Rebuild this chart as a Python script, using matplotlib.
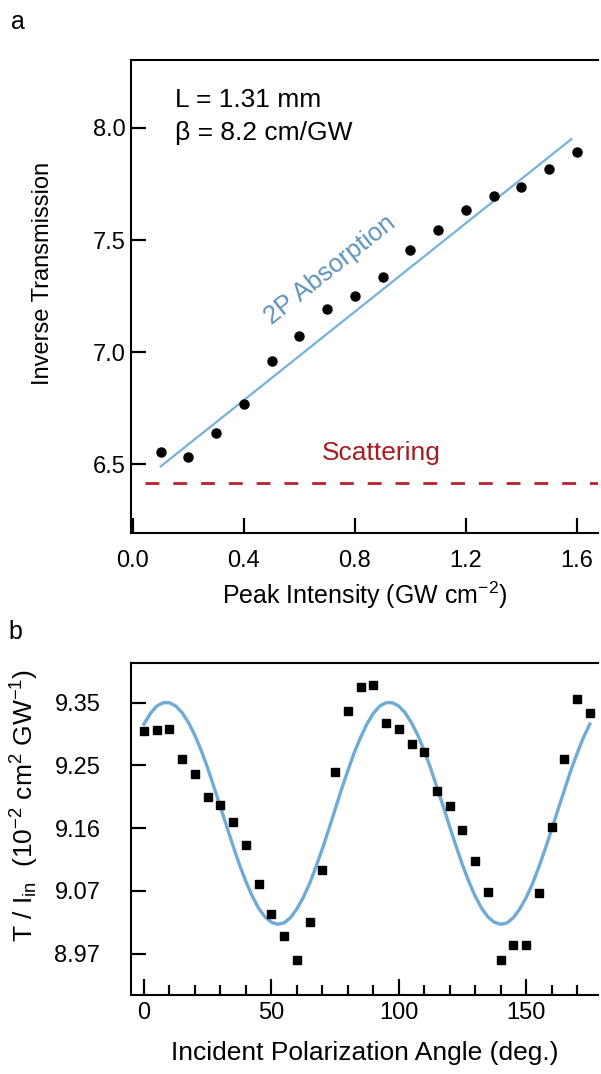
import matplotlib
matplotlib.use("Agg")
from matplotlib import pyplot as plt
from matplotlib.lines import Line2D
from matplotlib.ticker import MultipleLocator

plt.rcParams['font.family'] = ['Liberation Sans', 'DejaVu Sans']
plt.rcParams['mathtext.fontset'] = 'custom'
plt.rcParams['mathtext.rm'] = 'Liberation Sans'
plt.rcParams['mathtext.it'] = 'Liberation Sans'

# panel a: inverse transmission vs peak intensity
intensity = [0.1, 0.2, 0.3, 0.4, 0.5, 0.6, 0.7, 0.8, 0.9, 1.0, 1.1, 1.2, 1.3, 1.4, 1.5, 1.6]
inv_trans = [6.556, 6.534, 6.641, 6.769, 6.962, 7.070, 7.192, 7.251, 7.336, 7.457,
             7.545, 7.634, 7.695, 7.735, 7.815, 7.891]
fit_x = [0.1, 1.58]
fit_y = [6.49, 7.95]
scatter_x = [0.043, 1.676]
scatter_level = 6.418

# panel b: T/I_in vs polarization angle
angle = list(range(0, 180, 5))
t_over_i = [9.305, 9.307, 9.308, 9.264, 9.241, 9.206, 9.194, 9.170, 9.135, 9.077,
            9.032, 8.998, 8.963, 9.020, 9.098, 9.244, 9.335, 9.371, 9.374, 9.318,
            9.308, 9.286, 9.274, 9.216, 9.193, 9.157, 9.111, 9.065, 8.963, 8.985,
            8.985, 9.063, 9.162, 9.264, 9.354, 9.333]
# fitted curve read every 2.5 deg
curve_x = [i * 2.5 for i in range(71)]
curve_y = [9.316, 9.332, 9.343, 9.348, 9.348, 9.343, 9.333, 9.318, 9.299, 9.276,
           9.250, 9.221, 9.192, 9.162, 9.133, 9.105, 9.080, 9.058, 9.040, 9.027,
           9.019, 9.016, 9.018, 9.026, 9.039, 9.056, 9.077, 9.102, 9.129, 9.158,
           9.188, 9.218, 9.246, 9.273, 9.296, 9.316, 9.332, 9.343, 9.348, 9.348,
           9.343, 9.333, 9.318, 9.299, 9.276, 9.250, 9.221, 9.192, 9.162, 9.133,
           9.105, 9.080, 9.058, 9.040, 9.027, 9.019, 9.016, 9.018, 9.026, 9.039,
           9.056, 9.077, 9.102, 9.129, 9.158, 9.188, 9.217, 9.246, 9.272, 9.296,
           9.316]
b_ticks = [8.972, 9.066, 9.16, 9.254, 9.348]

FS = 17
fig = plt.figure(figsize=(6.01, 10.74), dpi=100)

def style(ax, xpad, ypad):
    for s in ['left', 'bottom', 'top']:
        ax.spines[s].set_linewidth(1.5)
    ax.spines['right'].set_visible(False)
    ax.tick_params(direction='in', length=11, width=1.5, labelsize=FS,
                   top=False, right=False)
    ax.tick_params(axis='x', pad=xpad)
    ax.tick_params(axis='y', pad=ypad)

def tick_marks(ax, xlocs, ylocs, xlen_px=15, ylen_px=15):
    # inward tick strokes along the bottom and left spines
    bb = ax.get_position()
    w = bb.width * fig.bbox.width
    h = bb.height * fig.bbox.height
    for t in xlocs:
        ax.add_line(Line2D([t, t], [0, xlen_px / h], transform=ax.get_xaxis_transform(),
                           color='black', lw=1.5, solid_capstyle='butt', clip_on=False))
    for t in ylocs:
        ax.add_line(Line2D([0, ylen_px / w], [t, t], transform=ax.get_yaxis_transform(),
                           color='black', lw=1.5, solid_capstyle='butt', clip_on=False))

# ---- a ----
ax1 = fig.add_axes([131/601, 1-533/1074, (598-131)/601, (533-60)/1074])
ax1.set_xlim(-0.007, 1.676)
ax1.set_ylim(6.193, 8.303)
ax1.set_xticks([0.0, 0.4, 0.8, 1.2, 1.6])
ax1.set_yticks([6.5, 7.0, 7.5, 8.0])
ax1.xaxis.set_major_formatter(lambda v, p: f"{v:.1f}")
ax1.yaxis.set_major_formatter(lambda v, p: f"{v:.1f}")
style(ax1, 12, 4)
ax1.plot(fit_x, fit_y, color='#73b3da', lw=1.6)
ax1.plot(intensity, inv_trans, 'o', color='black', ms=6.5)
ax1.plot(scatter_x, [scatter_level, scatter_level], color='#b8232b', lw=2,
         dashes=(5, 5))
ax1.set_xlim(-0.007, 1.676)
ax1.set_ylim(6.193, 8.303)
tick_marks(ax1, ax1.get_xticks(), ax1.get_yticks())
ax1.text(0.095, 0.915, "L = 1.31 mm", transform=ax1.transAxes, fontsize=19, va='center')
ax1.text(0.095, 0.845, "β = 8.2 cm/GW", transform=ax1.transAxes, fontsize=19, va='center')
ax1.text(0.894, 6.55, "Scattering", color='#a61c22', fontsize=19, ha='center', va='center')
ax1.text(0.71, 7.367, "2P Absorption", color='#5f93bb', fontsize=18.5, ha='center',
         va='center', rotation=38.5)
ax1.set_xlabel("Peak Intensity (GW cm$^{\\mathregular{-2}}$)", fontsize=18, labelpad=6)
fig.text(43/601, 1-273/1074, "Inverse Transmission", rotation=90, fontsize=17,
         ha='center', va='center')
fig.text(18/601, 1-22/1074, "a", fontsize=18, ha='center', va='center')

# ---- b ----
ax2 = fig.add_axes([131/601, 1-995/1074, (598-131)/601, (995-662.7)/1074])
ax2.set_xlim(-5.1, 178.2)
ax2.set_ylim(8.910, 9.408)
ax2.set_xticks([0, 50, 100, 150])
ax2.xaxis.set_minor_locator(MultipleLocator(10))
ax2.set_yticks(b_ticks)
ax2.yaxis.set_major_formatter(lambda v, p: f"{v:.2f}")
style(ax2, 5, 22)
ax2.tick_params(axis='x', which='minor', direction='in', length=7, width=1.5,
                top=False, bottom=True)
ax2.plot(curve_x, curve_y, color='#6fabd4', lw=2.4)
ax2.plot(angle, t_over_i, 's', color='black', ms=6)
ax2.set_xlim(-5.1, 178.2)
ax2.set_ylim(8.910, 9.408)
tick_marks(ax2, ax2.get_xticks(), ax2.get_yticks(), xlen_px=16)
minor = [t for t in ax2.xaxis.get_minorticklocs() if -5.1 <= t <= 178.2]
tick_marks(ax2, minor, [], xlen_px=10)
ax2.set_xlabel("Incident Polarization Angle (deg.)", fontsize=19, labelpad=12)
fig.text(25/601, 1-805/1074,
         "T / I$_{\\mathregular{in}}$  (10$^{\\mathregular{-2}}$ cm$^{\\mathregular{2}}$ GW$^{\\mathregular{-1}}$)",
         rotation=90, fontsize=19, ha='center', va='center')
fig.text(15/601, 1-632/1074, "b", fontsize=18, ha='center', va='center')

fig.savefig("out.png", dpi=100)
